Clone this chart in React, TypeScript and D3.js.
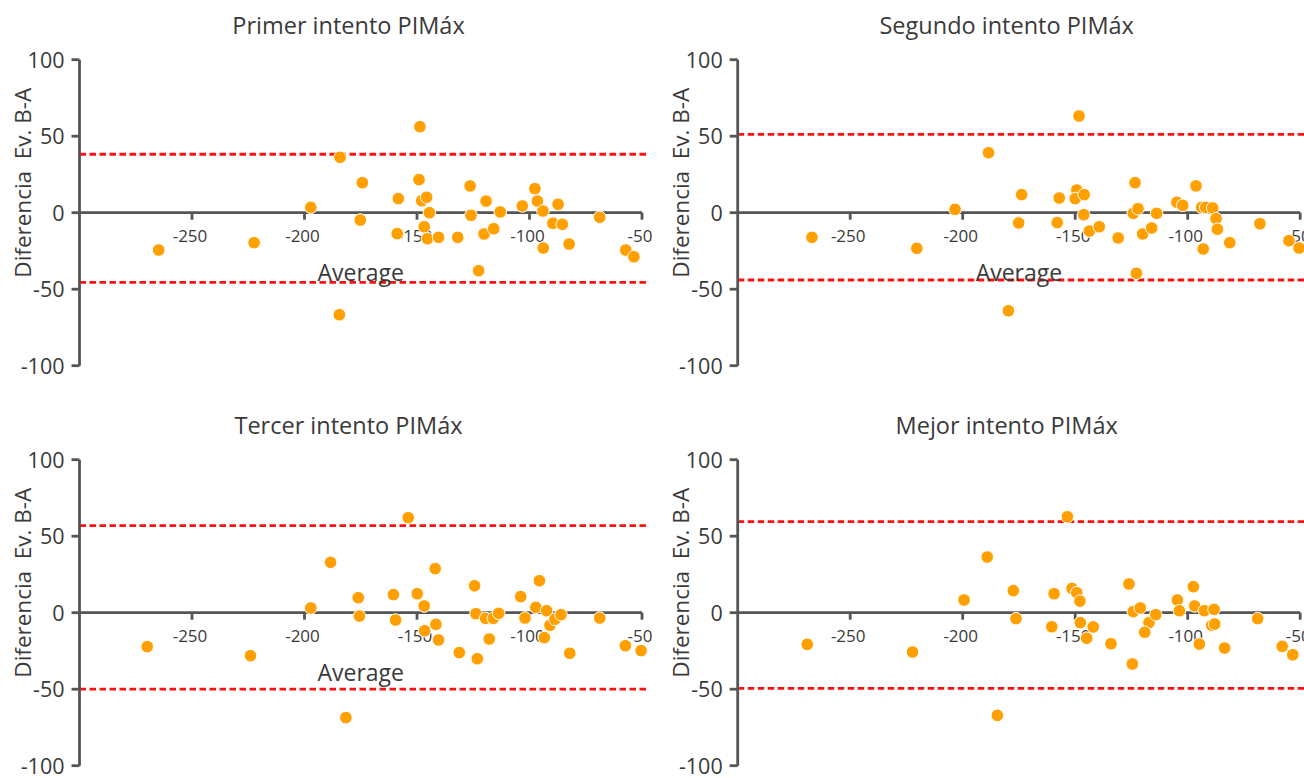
import * as d3 from "d3";

// Bland-Altman: promedio (x) y diferencia B-A (y) por intento
const titles = ["Primer intento PIMáx", "Segundo intento PIMáx", "Tercer intento PIMáx", "Mejor intento PIMáx"];
const xTicks = [-250, -200, -150, -100, -50];
const yTicks = [100, 50, 0, -50, -100];
const upperLimits = [38.2, 51.2, 56.9, 59.5];
const lowerLimits = [-45.5, -44.0, -49.9, -49.4];
const showAverage = [true, true, true, false];

const avg1 = [-148.7, -184.2, -174.3, -197.2, -175.2, -158.3, -158.8, -149.1, -147.9, -145.7, -144.5, -146.8, -145.4, -140.4, -131.9, -126.4, -126, -119.3, -120.2, -122.6, -115.9, -113, -103.2, -97.6, -96.5, -94, -89.6, -87.3, -85.4, -93.9, -82.4, -68.8, -184.5, -264.8, -222.4, -57.2, -53.6];
const diff1 = [56.2, 36.2, 19.6, 3.5, -4.8, 9.2, -13.7, 21.6, 7.8, 10.1, 0, -9.2, -17, -16.1, -16.1, 17.5, -1.7, 7.6, -13.9, -37.9, -10.5, 0.5, 4.4, 15.7, 7.6, 1.1, -6.9, 5.5, -7.6, -23.1, -20.5, -3, -66.7, -24.4, -19.6, -24.4, -28.8];

const avg2 = [-148.3, -188.5, -203.4, -173.8, -175.1, -157.1, -158, -149.3, -150, -146, -146.2, -143.7, -139.3, -130.9, -123.4, -124.2, -122.1, -120, -116, -113.8, -122.8, -104.8, -102.2, -96.3, -93.8, -92, -88.9, -87.4, -86.8, -93.1, -81.3, -67.9, -55, -50.5, -179.7, -267, -220.4];
const diff2 = [63.2, 39.2, 2.2, 11.8, -6.7, 9.6, -6.5, 14.8, 9.2, 11.8, -1.3, -12, -9.2, -16.5, 19.6, -0.4, 2.6, -13.9, -10, -0.4, -39.6, 6.8, 4.8, 17.5, 3.5, 3.5, 3.1, -3.9, -10.8, -23.7, -19.6, -7.2, -18.3, -23.1, -64.1, -16.1, -23.3];

const avg3 = [-153.9, -188.4, -197.2, -176.1, -175.6, -160.5, -159.5, -149.9, -146.8, -146.6, -141.9, -141.6, -140.4, -131.2, -124.4, -123.8, -123.2, -119.5, -116.1, -117.9, -113.7, -103.9, -102, -95.6, -97.2, -92.4, -93.4, -90.9, -88.7, -86, -82.1, -68.8, -57.4, -50.4, -181.6, -269.9, -224];
const diff3 = [62.1, 32.9, 3.1, 9.8, -2.2, 11.8, -4.8, 12.4, 4.4, -11.8, 28.8, -7.6, -17.8, -26.1, 17.6, -0.7, -30.1, -3.7, -3.7, -17.2, -0.4, 10.5, -3.5, 20.9, 3.5, 1.3, -16.3, -8.2, -4.3, -1.3, -26.5, -3.5, -21.6, -24.8, -68.6, -22.2, -28.1];

const avg4 = [-153.5, -189.1, -199.4, -177.5, -176.3, -159.4, -160.4, -151.4, -149.3, -147.9, -147.7, -144.9, -142, -134.1, -126.1, -124.2, -121.1, -117.2, -119.1, -114.2, -124.6, -104.6, -103.7, -97.5, -96.9, -92.6, -88.3, -89.3, -88, -94.8, -83.6, -68.9, -58, -53.3, -184.6, -269.1, -222.3];
const diff4 = [62.7, 36.4, 8.3, 14.4, -3.9, 12.4, -9.2, 15.9, 13.1, 7.6, -6.5, -16.7, -9.3, -20.3, 18.8, 0.7, 3.1, -6.5, -12.8, -1.3, -33.5, 8.3, 1.3, 17, 4.4, 1.3, 2.2, -8.2, -7.4, -20.5, -23.1, -3.9, -22, -27.5, -67.1, -20.7, -25.7];

const averages = [avg1, avg2, avg3, avg4];
const differences = [diff1, diff2, diff3, diff4];

const width = 1304, height = 778;
const panelLeft = [79.5, 737.7];
const panelTop = [59.7, 459.7];
const plotW = 562.5, plotH = 306;
const font = "'Open Sans', 'Noto Sans', sans-serif";
const textColor = "#3a3a3a";
const axisColor = "#555";

const Panel = ({ i }: { i: number }) => {
    const left = panelLeft[i % 2];
    const top = panelTop[Math.floor(i / 2)];
    const x = d3.scaleLinear().domain([-300, -50]).range([left, left + plotW]);
    const y = d3.scaleLinear().domain([-100, 100]).range([top + plotH, top]);
    const zero = y(0);
    const pts = averages[i].map((a, k) => ({ a, d: differences[i][k] }));

    return (
        <g fontFamily={font}>
            <text x={left + 269} y={34 + top - 59.7} textAnchor="middle" fontSize={23.5} fill={textColor}>
                {titles[i]}
            </text>
            <text
                transform={`translate(${left - 49},${top + 123}) rotate(-90)`}
                textAnchor="middle"
                fontSize={22.5}
                fill={textColor}
                style={{ whiteSpace: "pre" }}
            >
                {"Diferencia  Ev. B-A"}
            </text>

            {/* limites de acuerdo */}
            {[upperLimits[i], lowerLimits[i]].map((v, k) => (
                <line key={k} x1={left} x2={left + plotW + 4} y1={y(v)} y2={y(v)}
                    stroke="#ff1010" strokeWidth={2.8} strokeDasharray="6.5,3.5" />
            ))}

            {/* eje y */}
            <line x1={left} x2={left} y1={y(100)} y2={y(-100)} stroke={axisColor} strokeWidth={2.8} />
            {yTicks.map((t) => (
                <g key={t}>
                    <line x1={left - 8} x2={left} y1={y(t)} y2={y(t)} stroke={axisColor} strokeWidth={2.8} />
                    <text x={left - 15} y={y(t) + 8} textAnchor="end" fontSize={21.5} fill={textColor}>
                        {t}
                    </text>
                </g>
            ))}

            {/* eje x en cero */}
            <line x1={left} x2={x(-50)} y1={zero} y2={zero} stroke={axisColor} strokeWidth={2.8} />
            {xTicks.map((t) => (
                <g key={t}>
                    <line x1={x(t)} x2={x(t)} y1={zero} y2={zero + 7} stroke={axisColor} strokeWidth={2.8} />
                    <text x={x(t) - 2} y={zero + 29} textAnchor="middle" fontSize={17} fill={textColor}>
                        {t}
                    </text>
                </g>
            ))}

            {showAverage[i] && (
                <text x={left + plotW / 2} y={zero + 68} textAnchor="middle" fontSize={23} fill={textColor}>
                    Average
                </text>
            )}

            {pts.map((p, k) => (
                <circle key={k} cx={x(p.a)} cy={y(p.d)} r={6.3} fill="#ffa000" stroke="#fff" strokeWidth={1} />
            ))}
        </g>
    );
};

const App = () => {
    return (
        <svg
            width={width}
            height={height}
            viewBox={`0 0 ${width} ${height}`}
            style={{ position: "absolute", left: 0, top: 0, background: "#fff" }}
        >
            {[0, 1, 2, 3].map((i) => (
                <Panel key={i} i={i} />
            ))}
        </svg>
    );
};

export default App;
